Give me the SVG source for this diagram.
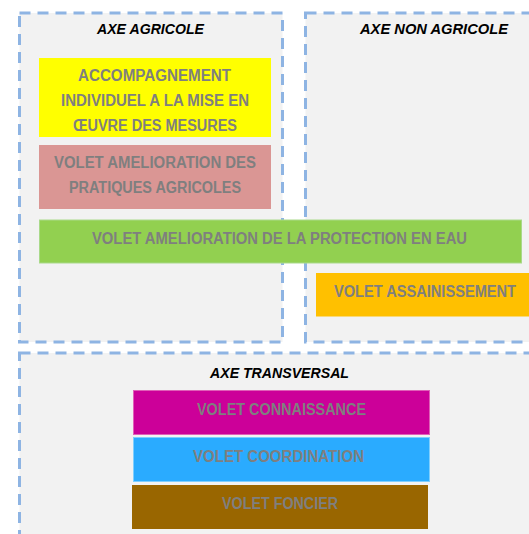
<svg xmlns="http://www.w3.org/2000/svg" width="529" height="534" viewBox="0 0 529 534">
<style>
.axe{fill:#f2f2f2;stroke:#8eb4e3;stroke-width:3;stroke-dasharray:11 7}
.t{font-family:"Liberation Sans",Arial,sans-serif;font-weight:bold;font-size:16px;fill:#7f7f7f}
.h{font-family:"Liberation Sans",Arial,sans-serif;font-weight:bold;font-style:italic;font-size:14.5px;fill:#000}
</style>
<rect width="529" height="534" fill="#ffffff"/>
<g id="axe-agricole">
<rect class="axe" x="19.5" y="13" width="263" height="329"/>
<text class="h" x="97" y="34" textLength="107" lengthAdjust="spacingAndGlyphs">AXE AGRICOLE</text>
</g>
<g id="axe-non-agricole">
<rect class="axe" x="305.5" y="13" width="250" height="329"/>
<text class="h" x="360" y="34" textLength="148" lengthAdjust="spacingAndGlyphs">AXE NON AGRICOLE</text>
</g>
<g id="axe-transversal">
<rect class="axe" x="19.5" y="353" width="540" height="220"/>
<text class="h" x="210" y="378" textLength="139" lengthAdjust="spacingAndGlyphs">AXE TRANSVERSAL</text>
</g>
<g id="accompagnement">
<rect x="39" y="58" width="232" height="79" fill="#ffff00"/>
<text class="t" x="78" y="81" textLength="153" lengthAdjust="spacingAndGlyphs">ACCOMPAGNEMENT</text>
<text class="t" x="61" y="106" textLength="188" lengthAdjust="spacingAndGlyphs">INDIVIDUEL A LA MISE EN</text>
<text class="t" x="73" y="131" textLength="164" lengthAdjust="spacingAndGlyphs">ŒUVRE DES MESURES</text>
</g>
<g id="pratiques">
<rect x="39" y="145" width="232" height="64" fill="#da9694"/>
<text class="t" x="54" y="168" textLength="202" lengthAdjust="spacingAndGlyphs">VOLET AMELIORATION DES</text>
<text class="t" x="69" y="193" textLength="172" lengthAdjust="spacingAndGlyphs">PRATIQUES AGRICOLES</text>
</g>
<g id="protection">
<rect x="39.5" y="220" width="482" height="43" fill="#92d050" stroke="#a9d98a" stroke-width="1"/>
<text class="t" x="92" y="244" textLength="375" lengthAdjust="spacingAndGlyphs">VOLET AMELIORATION DE LA PROTECTION EN EAU</text>
</g>
<g id="assainissement">
<rect x="316" y="273" width="220" height="43.5" fill="#ffc000"/>
<text class="t" x="334" y="297" textLength="182" lengthAdjust="spacingAndGlyphs">VOLET ASSAINISSEMENT</text>
</g>
<g id="connaissance">
<rect x="133.5" y="390.5" width="296" height="44" fill="#cc0099" stroke="#e060b8" stroke-width="1"/>
<text class="t" x="197" y="415" textLength="169" lengthAdjust="spacingAndGlyphs">VOLET CONNAISSANCE</text>
</g>
<g id="coordination">
<rect x="133.5" y="437.5" width="296" height="44" fill="#2aabff" stroke="#7fcfff" stroke-width="1"/>
<text class="t" x="193" y="462" textLength="171" lengthAdjust="spacingAndGlyphs">VOLET COORDINATION</text>
</g>
<g id="foncier">
<rect x="132" y="485" width="296" height="44" fill="#996600"/>
<text class="t" x="222" y="509" textLength="116" lengthAdjust="spacingAndGlyphs">VOLET FONCIER</text>
</g>
<g id="connectors"></g>
</svg>
